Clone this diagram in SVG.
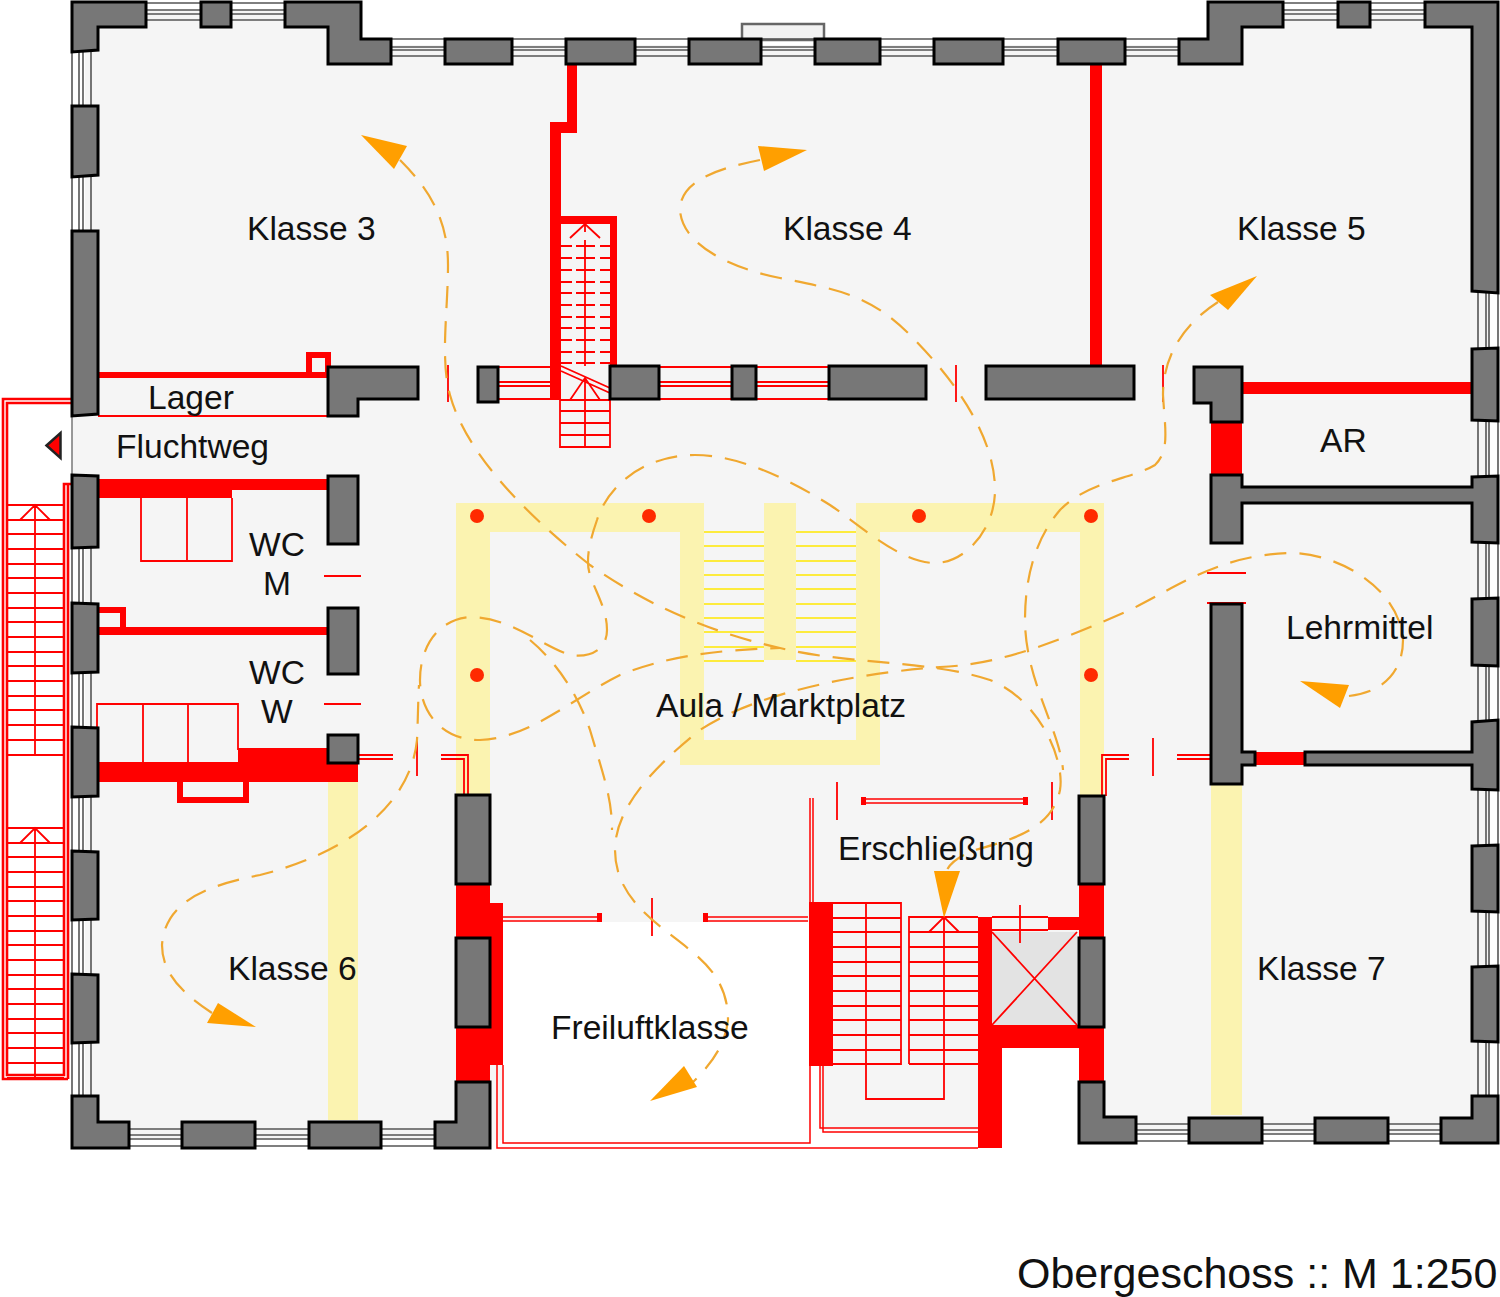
<svg xmlns="http://www.w3.org/2000/svg" width="1500" height="1297" viewBox="0 0 1500 1297">
<style>
.t{font-family:"Liberation Sans",Arial,sans-serif;font-size:33.6px;fill:#111}
.w{fill:#777;stroke:#000;stroke-width:3;stroke-linejoin:miter}
.g{fill:none;stroke:#555;stroke-width:1.6}
.r{fill:none;stroke:#f00;stroke-width:1.8}
.rb{fill:none;stroke:#f00;stroke-width:6}
.s{fill:#f00;stroke:none}
.y{fill:#fbf3b0;stroke:none}
.d{fill:none;stroke:#f0a830;stroke-width:2.2;stroke-dasharray:22 13}
.a{fill:#ff9f00;stroke:none}
.p{fill:#ff2a00}
</style>
<rect width="1500" height="1297" fill="#fff"/>
<g id="floor">
<path fill="#f5f5f5" d="M85,10H350V45H1215V10H1490V1135H1090V1048H1000V1130H820V1066H810V922H503V1140H85V476H72V416H85Z"/>
<rect x="992" y="932" width="85" height="93" fill="#e3e3e3"/>
</g>
<g id="yellow-frame">
<path class="y" d="M456,503H704V740H856V503H1104V796H1080V532H880V765H680V532H490V795H456Z"/>
<rect class="y" x="764" y="503" width="32" height="157"/>
<rect class="y" x="328" y="782" width="30" height="338"/>
<rect class="y" x="1211" y="784" width="31" height="331"/>
<path fill="none" stroke="#ffe800" stroke-width="1.6" d="M704,532H764M704,546H764M704,561H764M704,575H764M704,589H764M704,604H764M704,618H764M704,632H764M704,647H764M704,661H764M796,532H856M796,546H856M796,561H856M796,575H856M796,589H856M796,604H856M796,618H856M796,632H856M796,647H856M796,661H856"/>
<circle class="p" cx="477" cy="516" r="7"/><circle class="p" cx="649" cy="516" r="7"/><circle class="p" cx="919" cy="516" r="7"/><circle class="p" cx="1091" cy="516" r="7"/><circle class="p" cx="477" cy="675" r="7"/><circle class="p" cx="1091" cy="675" r="7"/>
</g>
<g id="windows">
<rect x="742" y="24" width="82" height="16" fill="#f2f2f2" stroke="#666" stroke-width="2.5"/>
<path class="g" d="M146,3H285M146,10H285M146,14H285M146,20H285M1283,3H1425M1283,10H1425M1283,14H1425M1283,20H1425M361,39H1208M361,47H1208M361,50H1208M361,56H1208"/>
<path class="g" d="M72,50V416M79,50V416M83,50V416M91,50V416M72,476V1100M79,548V1100M83,548V1100M91,548V1100M1478,290V1100M1486,290V1100M1489,290V1100M1498,290V1100"/>
<path class="g" d="M129,1129H435M129,1135H435M129,1139H435M129,1146H435M1136,1124H1441M1136,1130H1441M1136,1134H1441M1136,1141H1441"/>
<path class="r" d="M498,367H550M498,382H550M498,386H550M498,399H550M660,367H732M660,382H732M660,386H732M660,399H732M756,367H829M756,382H829M756,386H829M756,399H829"/>
</g>
<g id="escape-stair">
<path fill="none" stroke="#f00" stroke-width="2.6" d="M72,399H3V1079H68M72,403H7V1075H64V484H72M68,1079V484H97"/>
<path class="r" d="M7,505H64M7,520H64M7,534H64M7,549H64M7,564H64M7,578H64M7,593H64M7,608H64M7,622H64M7,637H64M7,652H64M7,666H64M7,681H64M7,696H64M7,710H64M7,725H64M7,740H64M7,755H64M7,828H64M7,843H64M7,857H64M7,872H64M7,887H64M7,901H64M7,916H64M7,931H64M7,945H64M7,960H64M7,975H64M7,989H64M7,1004H64M7,1019H64M7,1033H64M7,1048H64M7,1063H64M7,1078H64M35,505V755M35,828V1078M20,520L35,505L50,520M20,843L35,828L50,843"/>
<path d="M46.5,445.500L60.500,433V458Z" fill="#f00" stroke="#222" stroke-width="2.500"/>
<path stroke="#777" stroke-width="1.500" d="M72,416V476"/>
</g>
<g id="red-walls">
<path class="s" d="M567,64H577V133H561V400H550V122H567Z"/>
<path class="s" d="M561,216H617V366H610V224H561Z"/>
<rect class="s" x="1090" y="64" width="12" height="303"/>
<rect class="s" x="98" y="372" width="230" height="6"/>
<path class="rb" d="M309,375V355H328V372"/>
<path class="r" d="M98,416H328"/>
<path class="s" d="M98,479H328V490H232V498H98Z"/>
<path class="r" d="M141,498V561H232V498M187,498V561"/>
<rect class="s" x="98" y="627" width="230" height="8"/>
<path class="rb" d="M98,610H123V630"/>
<path class="r" d="M97,762V704H238V750M143,704V762M188,704V762"/>
<path class="s" d="M98,762H238V748H358V782H98Z"/>
<path class="rb" d="M180,782V800H246V782"/>
<rect class="s" x="1242" y="382" width="230" height="12"/>
<rect class="s" x="1211" y="422" width="31" height="53"/>
<rect class="s" x="1255" y="752" width="50" height="13"/>
<path class="s" d="M456,884H490V903H503V1065H490V1082H456Z"/>
<path class="s" d="M1079,884H1104V1082H1079V1048H1002V1148H978V917H992V1025H1079V930H1048V917H1079Z"/>
<path class="s" d="M809,902H833V1066H809Z"/>
</g>
<g id="doors">
<path class="r" d="M324,576H361M324,704H361M1207,573H1246M1207,603H1246M448,365V402M956,365V402M1163,365V402M417,738V776M1153,738V776M837,782V820M1052,782V820M652,898V936M1020,905V943M992,917H1048M992,930H1048"/>
<path fill="none" stroke="#f00" stroke-width="1.800" d="M358,755H393M358,759H393M441,755H468V795M441,759H464V795M1102,796V755H1129M1106,796V759H1129M1177,755H1211M1177,759H1211"/>
<path fill="none" stroke="#f00" stroke-width="1.500" d="M862,799H1026M862,803H1026M503,917H600M503,921H600M705,917H808M705,921H808"/>
<path class="s" d="M861,797h5v8h-5zM1023,797h5v8h-5zM597,913h5v9h-5zM703,913h5v9h-5z"/>
<path fill="none" stroke="#f00" stroke-width="1.500" d="M810,798V902M813,798V902"/>
<path fill="none" stroke="#f00" stroke-width="1.500" d="M497,1065V1148H810M503,1065V1143H810V922M810,1148H978M820,1066V1128H978M823,1066V1132H978"/>
</g>
<g id="stair-north">
<path fill="none" stroke="#f00" stroke-width="1.800" stroke-dasharray="11 4 19 5 10" d="M561,246H610M561,258H610M561,270H610M561,282H610M561,293H610M561,305H610M561,317H610M561,328H610M561,340H610M561,352H610M561,363H610"/>
<path class="r" d="M585,240V366M585,378V447M570,238L585,224L600,238M585,224V232M570,400L585,378L600,400M561,366L610,388M561,371L610,393"/>
<path class="r" d="M560,400V447H610V399M560,411H610M560,423H610M560,435H610M560,400H610"/>
</g>
<g id="stair-south">
<path class="r" d="M833,903H901V1064H833M833,918H901M833,932H901M833,947H901M833,962H901M833,976H901M833,991H901M833,1006H901M833,1020H901M833,1035H901M833,1050H901M866,903V1099H944V917M909,1064V917H978M909,932H978M909,947H978M909,962H978M909,976H978M909,991H978M909,1006H978M909,1020H978M909,1035H978M909,1050H978M909,1064H978M929,932L944,917L959,932"/>
<path class="r" d="M992,932L1077,1025M1077,932L992,1025"/>
</g>
<g id="walls">
<path class="w" d="M72,2H146V27H98V50L72,52Z"/>
<rect class="w" x="201" y="2" width="30" height="25"/>
<path class="w" d="M285,2H361V39H391V64H328V27H285Z"/>
<rect class="w" x="445" y="39" width="67" height="25"/><rect class="w" x="566" y="39" width="69" height="25"/><rect class="w" x="689" y="39" width="72" height="25"/><rect class="w" x="815" y="39" width="65" height="25"/><rect class="w" x="934" y="39" width="69" height="25"/><rect class="w" x="1058" y="39" width="67" height="25"/>
<path class="w" d="M1179,39H1208V2H1283V27H1242V64H1179Z"/>
<rect class="w" x="1338" y="2" width="32" height="25"/>
<path class="w" d="M1425,2H1498V293L1472,291V27H1425Z"/>
<path class="w" d="M72,106L98,106V175L72,177Z"/>
<path class="w" d="M72,231L98,231V414L72,416Z"/>
<path class="w" d="M72,475L98,476V547L72,548Z"/><path class="w" d="M72,603L98,604V672L72,673Z"/><path class="w" d="M72,727L98,728V796L72,797Z"/><path class="w" d="M72,851L98,852V919L72,920Z"/><path class="w" d="M72,974L98,975V1042L72,1043Z"/>
<path class="w" d="M72,1096H98V1122H129V1148H72Z"/>
<rect class="w" x="182" y="1122" width="73" height="26"/><rect class="w" x="309" y="1122" width="72" height="26"/>
<path class="w" d="M435,1122H456V1082H490V1148H435Z"/>
<path class="w" d="M328,367H418V399H358V416H328Z"/>
<rect class="w" x="478" y="367" width="20" height="35"/><rect class="w" x="610" y="366" width="49" height="33"/><rect class="w" x="732" y="366" width="24" height="33"/><rect class="w" x="829" y="366" width="97" height="33"/><rect class="w" x="986" y="366" width="148" height="33"/>
<path class="w" d="M1194,367H1242V422H1211V403H1194Z"/>
<path class="w" d="M1211,475H1242V487H1472V477L1498,476V543L1472,542V503H1242V543H1211Z"/>
<path class="w" d="M1472,349L1498,348V421L1472,420Z"/><path class="w" d="M1472,599L1498,598V666L1472,665Z"/><path class="w" d="M1472,846L1498,845V912L1472,911Z"/><path class="w" d="M1472,967L1498,966V1042L1472,1041Z"/>
<path class="w" d="M1211,604H1242V752H1255V765H1242V784H1211Z"/>
<path class="w" d="M1305,752H1472V722L1498,720V790L1472,789V765H1305Z"/>
<path class="w" d="M1498,1096V1143H1441V1118H1472V1096Z"/>
<rect class="w" x="1189" y="1118" width="73" height="25"/><rect class="w" x="1315" y="1118" width="73" height="25"/>
<path class="w" d="M1079,1082H1104V1117H1136V1143H1079Z"/>
<rect class="w" x="328" y="476" width="30" height="68"/><rect class="w" x="328" y="608" width="30" height="66"/><rect class="w" x="328" y="735" width="30" height="28"/>
<rect class="w" x="456" y="795" width="34" height="89"/><rect class="w" x="456" y="938" width="34" height="89"/>
<rect class="w" x="1079" y="796" width="25" height="88"/><rect class="w" x="1079" y="938" width="25" height="89"/>
</g>
<g id="connectors">
<path class="d" d="M400,160C430,190 448,220 448,265C448,310 440,360 450,395C465,450 520,510 590,565C640,600 700,630 780,648C850,665 930,660 990,680C1040,700 1065,760 1060,790C1052,830 1010,840 975,850C960,856 950,862 946,872"/>
<path class="d" d="M760,160C720,168 680,180 680,210C682,245 730,268 780,278C840,290 870,295 910,335C960,385 995,440 995,490C995,530 965,563 935,563C900,563 860,525 830,505C790,480 740,455 695,455C650,455 610,480 597,520C590,540 585,560 590,575C597,595 607,610 607,630C607,650 590,658 570,655C540,645 510,617 470,617C435,620 420,650 420,680C420,710 440,740 480,740C530,738 570,700 620,675C670,655 720,650 780,648"/>
<path class="d" d="M1218,302C1190,320 1163,350 1163,395C1165,430 1170,450 1155,465C1130,480 1090,480 1060,510C1030,545 1025,590 1025,620C1025,680 1060,730 1063,770"/>
<path class="d" d="M1349,696C1385,692 1403,670 1403,640C1400,590 1340,553 1290,553C1220,555 1180,585 1130,610C1040,650 990,665 940,667C870,672 760,690 700,730C650,770 615,810 615,850C615,900 660,925 690,950C715,970 728,990 728,1020C725,1050 705,1070 690,1085"/>
<path class="d" d="M212,1013C185,995 162,975 162,945C165,900 210,885 260,875C340,855 410,810 417,740C418,720 418,700 419,685"/>
<path class="d" d="M530,640C560,665 580,700 590,730C605,780 612,800 612,830"/>
<path class="a" d="M361,135L407,146L394,169Z"/>
<path class="a" d="M807,150L758,146L764,171Z"/>
<path class="a" d="M1257,276L1210,295L1228,310Z"/>
<path class="a" d="M1300,681L1349,685L1340,708Z"/>
<path class="a" d="M944,918L934,871H960Z"/>
<path class="a" d="M650,1101L684,1066L697,1087Z"/>
<path class="a" d="M256,1027L218,1003L207,1023Z"/>
</g>
<g id="labels">
<text class="t" x="247" y="240">Klasse 3</text>
<text class="t" x="783" y="240">Klasse 4</text>
<text class="t" x="1237" y="240">Klasse 5</text>
<text class="t" x="148" y="409">Lager</text>
<text class="t" x="116" y="458">Fluchtweg</text>
<text class="t" x="249" y="556">WC</text>
<text class="t" x="263" y="595">M</text>
<text class="t" x="249" y="684">WC</text>
<text class="t" x="261" y="723">W</text>
<text class="t" x="1320" y="452">AR</text>
<text class="t" x="1286" y="639">Lehrmittel</text>
<text class="t" x="656" y="717">Aula / Marktplatz</text>
<text class="t" x="838" y="860">Erschließung</text>
<text class="t" x="228" y="980">Klasse 6</text>
<text class="t" x="1257" y="980">Klasse 7</text>
<text class="t" x="551" y="1039">Freiluftklasse</text>
<text class="t" x="1017" y="1288" style="font-size:43px">Obergeschoss :: M 1:250</text>
</g>
</svg>
